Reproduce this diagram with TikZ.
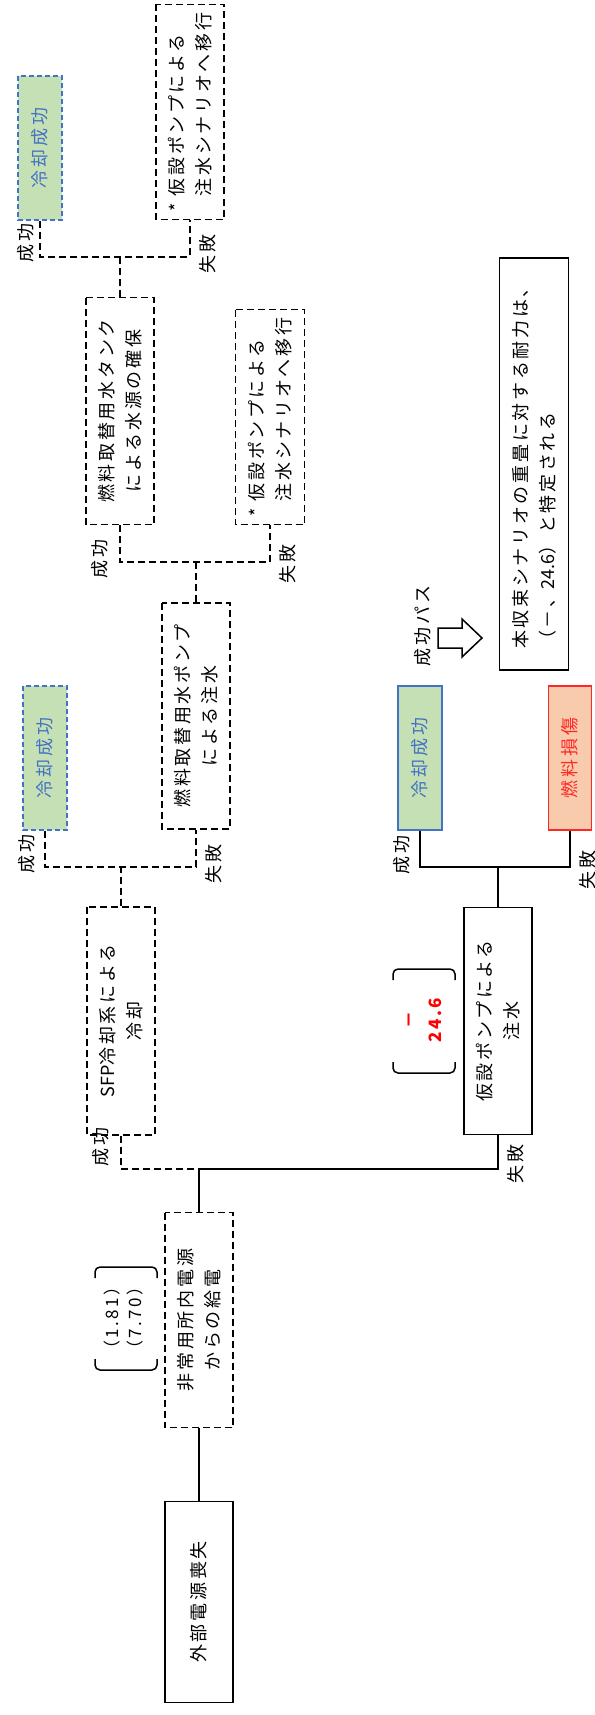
\documentclass[tikz,border=0pt]{standalone}
\usepackage{fontspec}
\setmainfont{Noto Sans CJK JP}[LetterSpace=15]
\newfontfamily\plainlatin{Noto Sans CJK JP}
\usetikzlibrary{positioning}
\usetikzlibrary{calc}
\definecolor{okfill}{RGB}{197,224,180}
\definecolor{okblue}{RGB}{68,114,196}
\definecolor{dmgfill}{RGB}{248,203,173}
\definecolor{dmgred}{RGB}{255,40,40}
\definecolor{valred}{RGB}{255,0,0}

\begin{document}
\begin{tikzpicture}[x=1pt, y=-1pt, font=\fontsize{18}{27}\selectfont,
    box/.style={rotate=90, align=center, inner sep=0pt, line width=1.7pt},
    sbox/.style={box, draw},
    dbox/.style={box, draw, dash pattern=on 7pt off 4pt},
    okbox/.style={box, draw=okblue, fill=okfill, text=okblue},
    dmgbox/.style={box, draw=dmgred, fill=dmgfill, text=dmgred},
    sline/.style={line width=1.7pt},
    dline/.style={line width=1.7pt, dash pattern=on 7pt off 4pt},
    lbl/.style={rotate=90, inner sep=0pt}]
    \useasboundingbox (0,0) rectangle (594,1715);

    % headings
    \node[sbox, minimum width=201, minimum height=68] (ev) at (199,1602) {外部電源喪失};
    \node[dbox, minimum width=215, minimum height=68] (hs) at (199,1320) {非常用所内電源\\からの給電};
    \node[dbox, minimum width=228, minimum height=68] (sfp) at (121,1021) {{\plainlatin SFP}冷却系による\\冷却};
    \node[dbox, minimum width=226, minimum height=68] (pump) at (196,716) {燃料取替用水ポンプ\\による注水};
    \node[dbox, minimum width=227, minimum height=68] (tank) at (120,411) {燃料取替用水タンク\\による水源の確保};
    \node[sbox, minimum width=227, minimum height=68] (tmp) at (498,1021) {仮設ポンプによる\\注水};

    % end states
    \node[okbox, dash pattern=on 5pt off 3pt, minimum width=144, minimum height=44] (ok1) at (45,758) {冷却成功};
    \node[okbox, dash pattern=on 5pt off 3pt, minimum width=144, minimum height=44] (ok2) at (40,148) {冷却成功};
    \node[okbox, minimum width=144, minimum height=44] (ok3) at (420,758) {冷却成功};
    \node[dmgbox, minimum width=144, minimum height=43] (dmg) at (570,758) {燃料損傷};
    \node[dbox, align=left, minimum width=215, minimum height=69] (alt1) at (270,417) {*\ 仮設ポンプによる\\\phantom{*\ }注水シナリオへ移行};
    \node[dbox, align=left, minimum width=215, minimum height=68] (alt2) at (190,112) {*\ 仮設ポンプによる\\\phantom{*\ }注水シナリオへ移行};

    % branch points
    \coordinate (j0) at ($(hs.east)+(0,-43)$);
    \coordinate (j1) at ($(sfp.east)+(0,-39)$);
    \coordinate (j2) at ($(pump.east)+(0,-40)$);
    \coordinate (j3) at ($(tank.east)+(0,-40)$);
    \coordinate (j4) at ($(tmp.east)+(0,-40)$);

    \draw[sline] (ev.east) -- (hs.west);
    \draw[sline] (hs.east) -- (j0);
    \draw[dline] (sfp.west) |- (j0);
    \draw[sline] (j0) -| (tmp.west);

    \draw[dline] (sfp.east) -- (j1);
    \draw[dline] (ok1.west) |- (pump.west |- j1) -- (pump.west);
    \draw[dline] (pump.east) -- (j2);
    \draw[dline] (tank.west) |- (alt1.west |- j2) -- (alt1.west);
    \draw[dline] (tank.east) -- (j3);
    \draw[dline] (ok2.west) |- (alt2.west |- j3) -- (alt2.west);
    \draw[sline] (tmp.east) -- (j4);
    \draw[sline] (ok3.west) |- (dmg.west |- j4) -- (dmg.west);

    % success / failure labels
    \node[lbl] (s0) at ($(sfp.west |- j0)+(-20,-22)$) {成功};
    \node[lbl] (f0) at ($(tmp.west |- j0)+(18,-5)$) {失敗};
    \node[lbl] (s1) at ($(ok1.west |- j1)+(-18,-13)$) {成功};
    \node[lbl] (f1) at ($(pump.west |- j1)+(18,-3)$) {失敗};
    \node[lbl] (s2) at ($(tank.west |- j2)+(-20,-3)$) {成功};
    \node[lbl] (f2) at ($(alt1.west |- j2)+(18,2)$) {失敗};
    \node[lbl] (s3) at ($(ok2.west |- j3)+(-14,-14)$) {成功};
    \node[lbl] (f3) at ($(alt2.west |- j3)+(18,-3)$) {失敗};
    \node[lbl] (s4) at ($(ok3.west |- j4)+(-18,-12)$) {成功};
    \node[lbl] (f4) at ($(dmg.west |- j4)+(18,3)$) {失敗};

    % capacity values
    \node[lbl, font=\fontsize{17}{23}\selectfont, align=center] (cap1) at (124,1318) {（1.81）\\（7.70）};
    \draw[line width=1.5pt, rounded corners=5pt] (95,1278) -- (95,1267) -- (157,1267) -- (157,1278);
    \draw[line width=1.5pt, rounded corners=5pt] (95,1359) -- (95,1370) -- (157,1370) -- (157,1359);
    \node[lbl, font=\fontsize{17}{26}\selectfont\bfseries, text=valred, align=center] (cap2) at (425,1020) {－\\24.6};
    \draw[line width=1.5pt, rounded corners=5pt] (393,980) -- (393,969) -- (455,969) -- (455,980);
    \draw[line width=1.5pt, rounded corners=5pt] (393,1062) -- (393,1073) -- (455,1073) -- (455,1062);

    % success path note
    \node[sbox, align=left, minimum width=412, minimum height=69] (note) at (534,464) {本収束シナリオの重畳に対する耐力は、\\（－、{\plainlatin 24.6}）と特定される};
    \node[lbl] (spath) at (423,626) {成功パス};
    \draw[line width=1.5pt] (438,628) -- (462,628) -- (462,619) -- (482,638)
        -- (462,657) -- (462,648) -- (438,648) -- cycle;
\end{tikzpicture}
\end{document}
